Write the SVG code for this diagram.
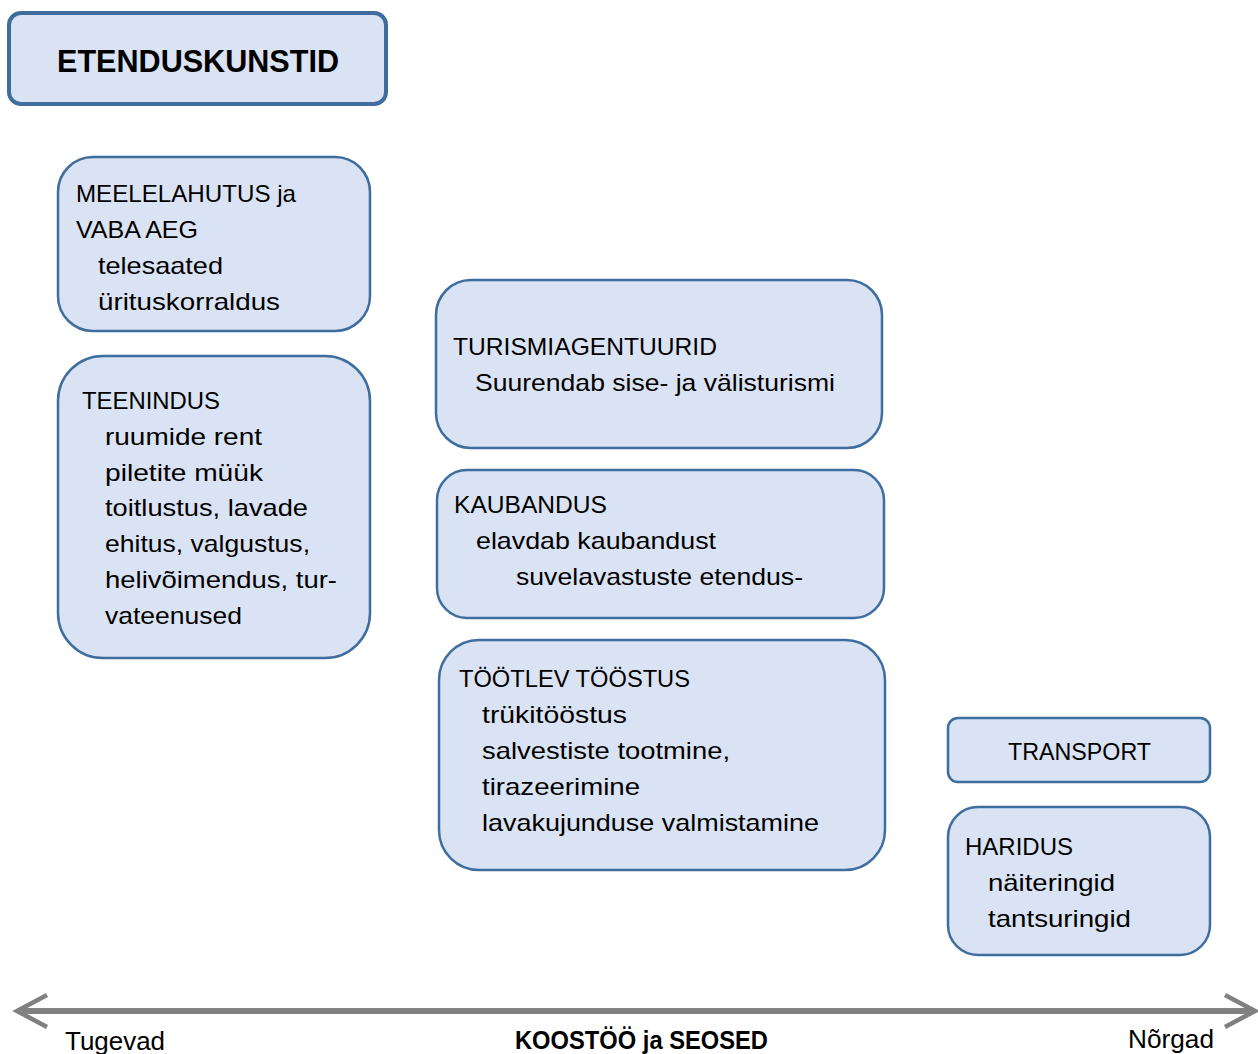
<svg xmlns="http://www.w3.org/2000/svg" width="1258" height="1054" viewBox="0 0 1258 1054">
<style>
.box{fill:#dae3f3;stroke:#3f6e9e;stroke-width:2.5}
.t{font-family:"Liberation Sans",Arial,sans-serif;font-size:24px;fill:#000}
.b{font-weight:bold}
.ax{font-family:"Liberation Sans",Arial,sans-serif;font-size:25px;fill:#000}
</style>
<rect width="1258" height="1054" fill="#ffffff"/>
<g id="title">
<rect x="9" y="13" width="377" height="91" rx="12" class="box" style="stroke-width:4"/>
<text x="198" y="72" class="t b" style="font-size:31px" text-anchor="middle" textLength="282" lengthAdjust="spacingAndGlyphs">ETENDUSKUNSTID</text>
</g>
<g id="meelelahutus">
<rect x="58" y="157" width="312" height="174" rx="35" class="box"/>
<text class="t" x="76" y="202" textLength="220" lengthAdjust="spacingAndGlyphs">MEELELAHUTUS ja</text>
<text class="t" x="76" y="238" textLength="122" lengthAdjust="spacingAndGlyphs">VABA AEG</text>
<text class="t" x="98" y="274" textLength="125" lengthAdjust="spacingAndGlyphs">telesaated</text>
<text class="t" x="98" y="310" textLength="182" lengthAdjust="spacingAndGlyphs">ürituskorraldus</text>
</g>
<g id="teenindus">
<rect x="58" y="356" width="312" height="302" rx="45" class="box"/>
<text class="t" x="82" y="409" textLength="138" lengthAdjust="spacingAndGlyphs">TEENINDUS</text>
<text class="t" x="105" y="445" textLength="157" lengthAdjust="spacingAndGlyphs">ruumide rent</text>
<text class="t" x="105" y="481" textLength="158" lengthAdjust="spacingAndGlyphs">piletite müük</text>
<text class="t" x="105" y="516" textLength="203" lengthAdjust="spacingAndGlyphs">toitlustus, lavade</text>
<text class="t" x="105" y="552" textLength="205" lengthAdjust="spacingAndGlyphs">ehitus, valgustus,</text>
<text class="t" x="105" y="588" textLength="232" lengthAdjust="spacingAndGlyphs">helivõimendus, tur-</text>
<text class="t" x="105" y="624" textLength="137" lengthAdjust="spacingAndGlyphs">vateenused</text>
</g>
<g id="turism">
<rect x="436" y="280" width="446" height="168" rx="35" class="box"/>
<text class="t" x="453" y="355" textLength="264" lengthAdjust="spacingAndGlyphs">TURISMIAGENTUURID</text>
<text class="t" x="475" y="391" textLength="360" lengthAdjust="spacingAndGlyphs">Suurendab sise- ja välisturismi</text>
</g>
<g id="kaubandus">
<rect x="437" y="470" width="447" height="148" rx="30" class="box"/>
<text class="t" x="454" y="513" textLength="153" lengthAdjust="spacingAndGlyphs">KAUBANDUS</text>
<text class="t" x="476" y="549" textLength="240" lengthAdjust="spacingAndGlyphs">elavdab kaubandust</text>
<text class="t" x="516" y="585" textLength="287" lengthAdjust="spacingAndGlyphs">suvelavastuste etendus-</text>
</g>
<g id="tootlev">
<rect x="439" y="640" width="446" height="230" rx="40" class="box"/>
<text class="t" x="459" y="687" textLength="231" lengthAdjust="spacingAndGlyphs">TÖÖTLEV TÖÖSTUS</text>
<text class="t" x="482" y="723" textLength="145" lengthAdjust="spacingAndGlyphs">trükitööstus</text>
<text class="t" x="482" y="759" textLength="248" lengthAdjust="spacingAndGlyphs">salvestiste tootmine,</text>
<text class="t" x="482" y="795" textLength="158" lengthAdjust="spacingAndGlyphs">tirazeerimine</text>
<text class="t" x="482" y="831" textLength="337" lengthAdjust="spacingAndGlyphs">lavakujunduse valmistamine</text>
</g>
<g id="transport">
<rect x="948" y="718" width="262" height="64" rx="10" class="box"/>
<text class="t" x="1008" y="760" textLength="143" lengthAdjust="spacingAndGlyphs">TRANSPORT</text>
</g>
<g id="haridus">
<rect x="948" y="807" width="262" height="148" rx="30" class="box"/>
<text class="t" x="965" y="855" textLength="108" lengthAdjust="spacingAndGlyphs">HARIDUS</text>
<text class="t" x="988" y="891" textLength="127" lengthAdjust="spacingAndGlyphs">näiteringid</text>
<text class="t" x="988" y="927" textLength="143" lengthAdjust="spacingAndGlyphs">tantsuringid</text>
</g>
<g id="connectors">
<line x1="22" y1="1011" x2="1250" y2="1011" stroke="#808080" stroke-width="6"/>
<path d="M47,995 L17,1011 L47,1027" fill="none" stroke="#808080" stroke-width="4.5"/>
<path d="M1225,995 L1255,1011 L1225,1027" fill="none" stroke="#808080" stroke-width="4.5"/>
</g>
<g id="axis-labels">
<text class="ax" x="65" y="1050" textLength="100" lengthAdjust="spacingAndGlyphs">Tugevad</text>
<text class="ax b" x="515" y="1049" textLength="253" lengthAdjust="spacingAndGlyphs">KOOSTÖÖ ja SEOSED</text>
<text class="ax" x="1128" y="1048" textLength="86" lengthAdjust="spacingAndGlyphs">Nõrgad</text>
</g>
</svg>
